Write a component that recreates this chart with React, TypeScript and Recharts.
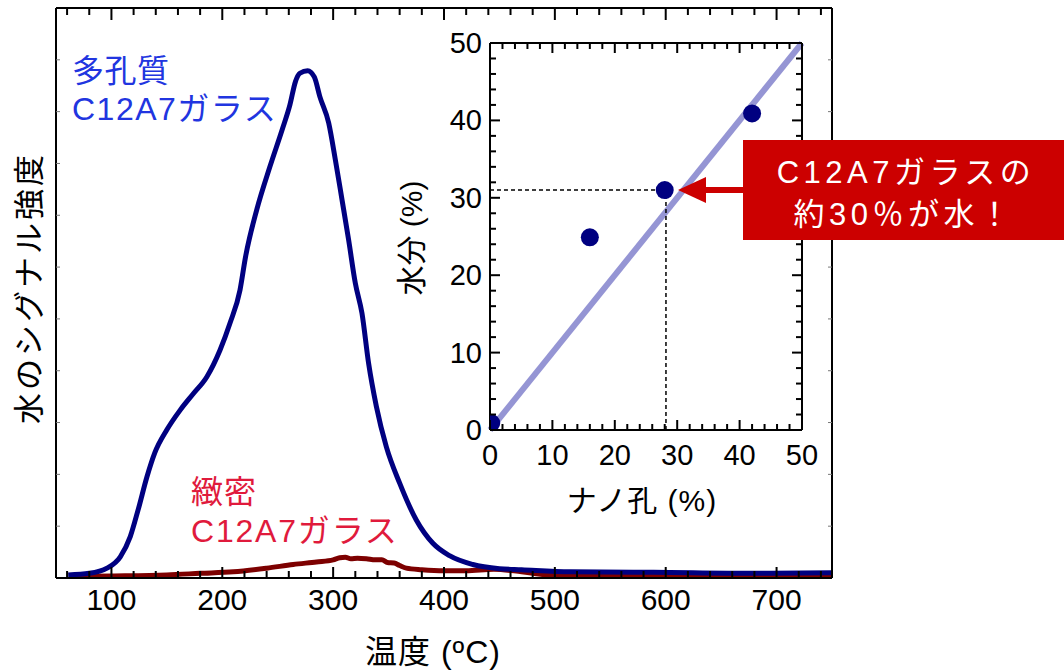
import React from 'react';
import { LineChart, Line, XAxis, YAxis, ScatterChart, Scatter, ReferenceLine } from 'recharts';

const FONT = "'Liberation Sans', 'Noto Sans CJK JP', sans-serif";

// water desorption signal vs temperature, porous C12A7 glass
const porousTemp = [61, 80, 96, 108, 117, 124, 132, 139, 150, 162, 174, 186, 198, 207, 216, 221, 231, 243, 254, 261, 266, 270, 277, 283, 288, 296, 302, 308, 314, 320, 326, 332, 339, 348, 360, 375, 390, 405, 426, 450, 470, 514, 589, 679, 750];
const porousSignal = [0.6, 0.9, 1.9, 4.1, 8.0, 13.1, 19.5, 24.1, 28.6, 32.4, 35.6, 38.8, 44.0, 49.2, 55.6, 62.0, 71.0, 79.4, 86.5, 91.3, 95.8, 97.4, 97.9, 96.7, 92.9, 87.8, 80.7, 73.0, 65.2, 56.9, 51.1, 41.4, 33.1, 25.3, 18.3, 11.2, 6.7, 4.3, 2.6, 1.8, 1.6, 1.2, 1.1, 0.9, 1.0];

// dense C12A7 glass
const denseTemp = [62, 100, 150, 180, 210, 240, 264, 285, 300, 306, 311, 316, 322, 330, 338, 344, 349, 355, 360, 366, 380, 400, 420, 445, 470, 493, 550, 650, 750];
const denseSignal = [0.3, 0.4, 0.6, 0.9, 1.2, 1.9, 2.6, 3.1, 3.5, 3.9, 4.0, 3.7, 3.8, 3.7, 3.5, 3.5, 3.0, 2.9, 2.4, 1.9, 1.6, 1.4, 1.4, 1.7, 1.2, 0.6, 0.4, 0.3, 0.3];

// inset: nano pore fraction vs water content
const nanoPore = [0.2, 16, 28, 42];
const waterContent = [0.9, 24.9, 31, 40.9];
const fitFrom = [0, 0];
const fitTo = [50, 50];
const readPore = 28.2;
const readWater = 31;

const tempTicks = [60, 80, 100, 120, 140, 160, 180, 200, 220, 240, 260, 280, 300, 320, 340, 360, 380, 400, 420, 440, 460, 480, 500, 520, 540, 560, 580, 600, 620, 640, 660, 680, 700, 720, 740];
const signalTicks = [10, 20, 30, 40, 50, 60, 70, 80, 90, 100];
const insetTicks = [0, 2, 4, 6, 8, 10, 12, 14, 16, 18, 20, 22, 24, 26, 28, 30, 32, 34, 36, 38, 40, 42, 44, 46, 48, 50];

const porousData = porousTemp.map((t, i) => ({ t, v: porousSignal[i] }));
const denseData = denseTemp.map((t, i) => ({ t, v: denseSignal[i] }));
const insetData = nanoPore.map((x, i) => ({ x, y: waterContent[i] }));

const axisLine = { stroke: '#000', strokeWidth: 2 };

// inward tick mark; dx/dy points into the plot
function mark(x: any, y: any, dx: number, dy: number, color = '#000', w = 2) {
  const px = Number(x);
  const py = Number(y);
  return <path d={`M${px},${py}L${px + dx},${py + dy}`} stroke={color} strokeWidth={w} fill="none" />;
}

// main chart ticks
const MainBottomTick = (props: any) => {
  const { x, y, payload } = props;
  const major = payload.value % 100 === 0;
  return (
    <g>
      {mark(x, y, 0, major ? -11 : -7)}
      {major && (
        <text x={x} y={Number(y) + 32} textAnchor="middle" fontSize={30} fontFamily={FONT} fill="#000">
          {payload.value}
        </text>
      )}
    </g>
  );
};
const MainTopTick = (props: any) => {
  const { x, y, payload } = props;
  return <g>{mark(x, y, 0, payload.value % 100 === 0 ? 12 : 7)}</g>;
};
const MainLeftTick = (props: any) => <g>{mark(props.x, props.y, 4, 0, '#777', 1)}</g>;
const MainRightTick = (props: any) => <g>{mark(props.x, props.y, -4, 0, '#777', 1)}</g>;

// inset ticks
const InsetBottomTick = (props: any) => {
  const { x, y, payload } = props;
  const major = payload.value % 10 === 0;
  return (
    <g>
      {mark(x, y, 0, major ? -10 : -6)}
      {major && (
        <text x={x} y={Number(y) + 35} textAnchor="middle" fontSize={29} fontFamily={FONT} fill="#000">
          {payload.value}
        </text>
      )}
    </g>
  );
};
const InsetTopTick = (props: any) => {
  const { x, y, payload } = props;
  return <g>{mark(x, y, 0, payload.value % 10 === 0 ? 10 : 6)}</g>;
};
const InsetLeftTick = (props: any) => {
  const { x, y, payload } = props;
  const major = payload.value % 10 === 0;
  return (
    <g>
      {mark(x, y, major ? 10 : 6, 0)}
      {major && (
        <text x={Number(x) - 8} y={Number(y) + 10} textAnchor="end" fontSize={29} fontFamily={FONT} fill="#000">
          {payload.value}
        </text>
      )}
    </g>
  );
};
const InsetRightTick = (props: any) => {
  const { x, y, payload } = props;
  return <g>{mark(x, y, payload.value % 10 === 0 ? -10 : -6, 0)}</g>;
};

export default function App() {
  return (
    <div style={{ position: 'absolute', left: 0, top: 0, width: 1064, height: 672, background: '#fff' }}>
      {/* main TPD chart */}
      <div style={{ position: 'absolute', left: 0, top: 0 }}>
        <LineChart width={1064} height={672} margin={{ top: 7, right: 231, bottom: 0, left: 0 }}>
          <XAxis dataKey="t" type="number" domain={[50, 750]} ticks={tempTicks} interval={0}
            height={94} tickSize={0} tickMargin={0} tickLine={false} axisLine={axisLine} tick={<MainBottomTick />} />
          <XAxis xAxisId="top" dataKey="t" orientation="top" type="number" domain={[50, 750]} ticks={tempTicks} interval={0}
            height={1} tickSize={0} tickMargin={0} tickLine={false} axisLine={axisLine} tick={<MainTopTick />} />
          <YAxis type="number" domain={[0, 110]} ticks={signalTicks} interval={0}
            width={56} tickSize={0} tickMargin={0} tickLine={false} axisLine={axisLine} tick={<MainLeftTick />} />
          <YAxis yAxisId="right" orientation="right" type="number" domain={[0, 110]} ticks={signalTicks} interval={0}
            width={1} tickSize={0} tickMargin={0} tickLine={false} axisLine={axisLine} tick={<MainRightTick />} />
          {/* invisible copy so the mirrored top/right axes get ticks */}
          <Line data={porousData} dataKey="v" xAxisId="top" yAxisId="right" stroke="none" strokeWidth={0} dot={false} activeDot={false} legendType="none" isAnimationActive={false} />
          <Line data={denseData} dataKey="v" type="monotone" stroke="#7d0000" strokeWidth={5} dot={false} isAnimationActive={false} />
          <Line data={porousData} dataKey="v" type="monotone" stroke="#000080" strokeWidth={5} dot={false} isAnimationActive={false} />
        </LineChart>
      </div>

      {/* inset: water content vs nano pores */}
      <div style={{ position: 'absolute', left: 400, top: 20 }}>
        <ScatterChart width={440} height={500} margin={{ top: 22, right: 37, bottom: 0, left: 0 }}>
          <XAxis dataKey="x" type="number" domain={[0, 50]} ticks={insetTicks} interval={0} allowDataOverflow
            height={90} tickSize={0} tickMargin={0} tickLine={false} axisLine={axisLine} tick={<InsetBottomTick />} />
          <XAxis xAxisId="top" dataKey="x" orientation="top" type="number" domain={[0, 50]} ticks={insetTicks} interval={0}
            height={1} tickSize={0} tickMargin={0} tickLine={false} axisLine={axisLine} tick={<InsetTopTick />} />
          <YAxis dataKey="y" type="number" domain={[0, 50]} ticks={insetTicks} interval={0} allowDataOverflow
            width={90} tickSize={0} tickMargin={0} tickLine={false} axisLine={axisLine} tick={<InsetLeftTick />} />
          <YAxis yAxisId="right" dataKey="y" orientation="right" type="number" domain={[0, 50]} ticks={insetTicks} interval={0}
            width={1} tickSize={0} tickMargin={0} tickLine={false} axisLine={axisLine} tick={<InsetRightTick />} />
          <ReferenceLine segment={[{ x: fitFrom[0], y: fitFrom[1] }, { x: fitTo[0], y: fitTo[1] }]} stroke="#9595d4" strokeWidth={6} />
          <ReferenceLine segment={[{ x: 0, y: readWater }, { x: readPore, y: readWater }]} stroke="#000" strokeWidth={1.5} strokeDasharray="4 3" />
          <ReferenceLine segment={[{ x: readPore, y: 0 }, { x: readPore, y: readWater }]} stroke="#000" strokeWidth={1.5} strokeDasharray="4 3" />
          {/* invisible copy so the mirrored top/right axes get ticks */}
          <Scatter data={insetData} xAxisId="top" yAxisId="right" isAnimationActive={false} legendType="none"
            shape={() => <g />} />
          <Scatter data={insetData} isAnimationActive={false}
            shape={(p: any) => <circle cx={p.cx} cy={p.cy} r={9} fill="#000080" />} />
        </ScatterChart>
      </div>

      {/* labels and callout */}
      <svg width={1064} height={672} style={{ position: 'absolute', left: 0, top: 0, pointerEvents: 'none' }} fontFamily={FONT}>
        <text transform="translate(29,288) rotate(-90)" textAnchor="middle" dominantBaseline="central" fontSize={31} letterSpacing={3} fill="#000">
          水のシグナル強度
        </text>
        <text x={433} y={663} textAnchor="middle" fontSize={32} letterSpacing={1} fill="#000">温度 (ºC)</text>
        <text transform="translate(411,238) rotate(-90)" textAnchor="middle" dominantBaseline="central" fontSize={30} fill="#000">
          水分 (%)
        </text>
        <text x={642} y={511} textAnchor="middle" fontSize={30} letterSpacing={1} fill="#000">ナノ孔 (%)</text>

        <text x={72} y={82} fontSize={32} letterSpacing={0.5} fill="#2135e0">多孔質</text>
        <text x={72} y={120} fontSize={32} letterSpacing={1.5} fill="#2135e0">C12A7ガラス</text>
        <text x={191} y={503} fontSize={32} letterSpacing={1} fill="#e01a3c">緻密</text>
        <text x={191} y={542} fontSize={32} letterSpacing={1.8} fill="#e01a3c">C12A7ガラス</text>

        <line x1={745} y1={190} x2={700} y2={190} stroke="#cc0000" strokeWidth={6} />
        <polygon points="678,190 706,177 706,203" fill="#cc0000" />
        <rect x={743} y={140} width={321} height={100} fill="#cc0000" />
        <text x={906} y={183} textAnchor="middle" fontSize={31} letterSpacing={4.5} fill="#fff">C12A7ガラスの</text>
        <text x={904} y={225} textAnchor="middle" fontSize={31} letterSpacing={4.5} fill="#fff">約30％が水！</text>
      </svg>
    </div>
  );
}
